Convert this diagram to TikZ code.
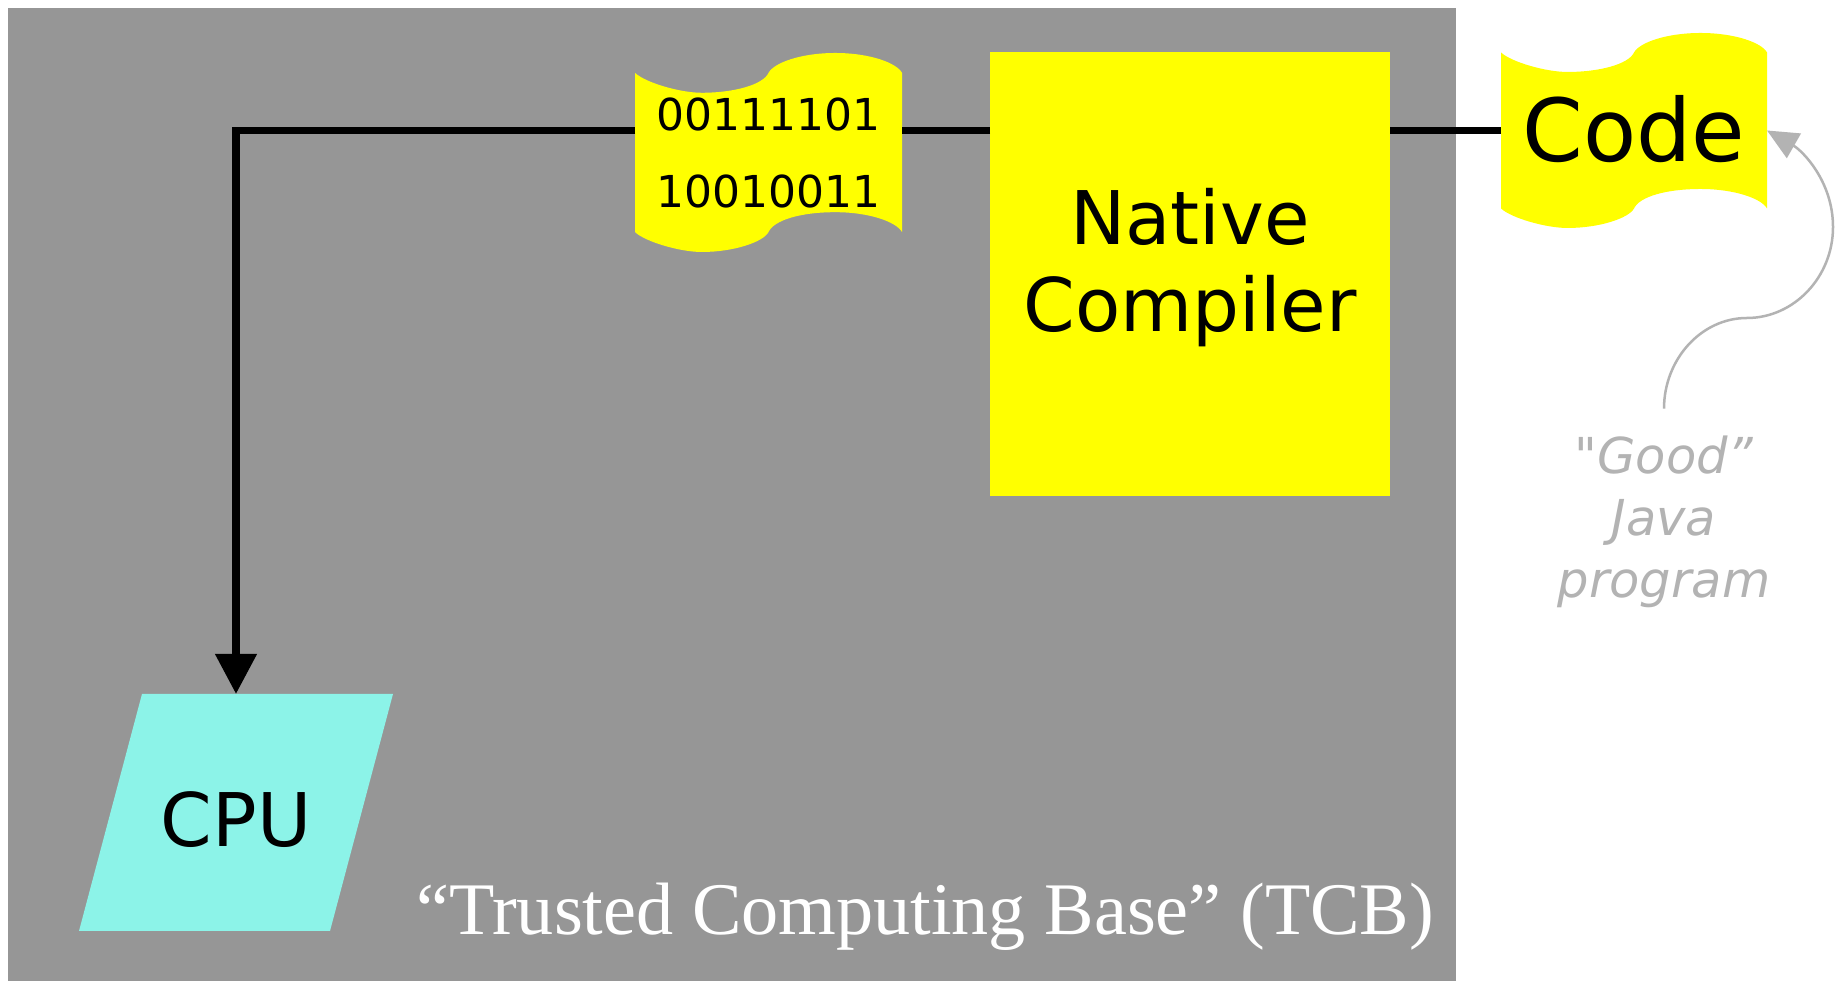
\documentclass[tikz,border=0pt]{standalone}
\usepackage{fontspec}
\setmainfont{DejaVu Sans}
\newfontfamily\tcbfont{Liberation Serif}
\newfontfamily\notefont{DejaVu Sans}[Ligatures=TeXOff]
\usetikzlibrary{arrows.meta}

\definecolor{tcbgray}{RGB}{150,150,150}
\definecolor{cpucyan}{RGB}{140,243,232}
\definecolor{notegray}{RGB}{179,179,179}
\definecolor{tapeyellow}{RGB}{255,255,0}

% Punched-tape outline: #1 left, #2 bottom, #3 width, #4 height (pt);
% drawn in a unit square, wavy top and bottom edges
\newcommand\tapefill[4]{%
  \begin{scope}[shift={(#1,#2)},x=#3pt,y=#4pt]
  \fill[tapeyellow] (0,0.9)
    .. controls (0.04,0.85) and (0.17,0.8) .. (0.25,0.8)
    .. controls (0.37,0.8) and (0.48,0.84) .. (0.5,0.9)
    .. controls (0.52,0.95) and (0.62,1) .. (0.75,1)
    .. controls (0.88,1) and (0.98,0.95) .. (1,0.9)
    -- (1,0.1)
    .. controls (0.98,0.15) and (0.88,0.2) .. (0.75,0.2)
    .. controls (0.62,0.2) and (0.52,0.16) .. (0.5,0.1)
    .. controls (0.48,0.05) and (0.37,0) .. (0.25,0)
    .. controls (0.17,0) and (0.04,0.05) .. (0,0.1)
    -- cycle;
  \end{scope}}

\begin{document}
\begin{tikzpicture}[x=1pt,y=1pt,
  flow/.style={line width=7.5pt},
  note/.style={draw=notegray,line width=2.5pt},
  plain/.style={inner sep=0pt,outer sep=0pt}]

\fill[white] (0,0) rectangle (1836,981);
\useasboundingbox (0,0) rectangle (1836,981);

% trusted computing base
\node[plain,fill=tcbgray,minimum width=1448pt,minimum height=973pt,anchor=south west] (tcb) at (8,0) {};
\node[plain,font=\tcbfont\fontsize{74.2pt}{90pt}\selectfont,text=white,anchor=base east] (tcblabel) at (1434,46)
  {“Trusted Computing Base” (TCB)};

% native compiler
\node[plain,fill=tapeyellow,minimum width=400pt,minimum height=444pt,align=center,
      font=\fontsize{74pt}{87pt}\selectfont] (compiler) at (1190,707)
  {Native\\Compiler\rule[-27.5pt]{0pt}{27.5pt}};

% machine code tape
\tapefill{635}{729}{267}{199}
\node[plain,minimum width=267pt,minimum height=199pt,align=center,
      font=\fontsize{44pt}{77pt}\selectfont] (bin) at (768.5,828.5)
  {00111101\\10010011};

% source code tape
\tapefill{1501}{753}{266}{195}
\node[plain,minimum width=266pt,minimum height=195pt,text height=63pt,text depth=0pt,
      font=\fontsize{87pt}{104pt}\selectfont] (code) at (1634,850.5) {Code};

% processor
\fill[cpucyan] (79,50) -- (330,50) -- (393,287) -- (142,287) -- cycle;
\node[plain,minimum height=237pt,text height=69pt,text depth=0pt,
      font=\fontsize{74pt}{89pt}\selectfont] (cpu) at (236,168.5) {CPU};

% compilation flow
\draw[flow] (code.west) -- (compiler.east |- code.west);
\draw[flow] (compiler.west |- code.west) -- (bin.east |- code.west);
\draw[flow,-{Triangle[length=40pt,width=40pt]}] (bin.west |- code.west) -| (cpu.north);

% annotation
\node[plain,align=center,text=notegray,font=\notefont\itshape\fontsize{49.5pt}{62pt}\selectfont] (good) at (1664,459)
  {"Good”\\Java\\program};
\coordinate (bendA) at (1747,663);
\coordinate (bendB) at (1833,754);
\draw[note,-{Triangle[length=31pt,width=28pt]}] ([yshift=27.5pt]good.north)
  .. controls +(0,49) and +(-46,0) .. (bendA)
  .. controls +(47,0) and +(0,-50) .. (bendB)
  .. controls +(0,46) and +(35,-20) .. (code.east);
\end{tikzpicture}
\end{document}
